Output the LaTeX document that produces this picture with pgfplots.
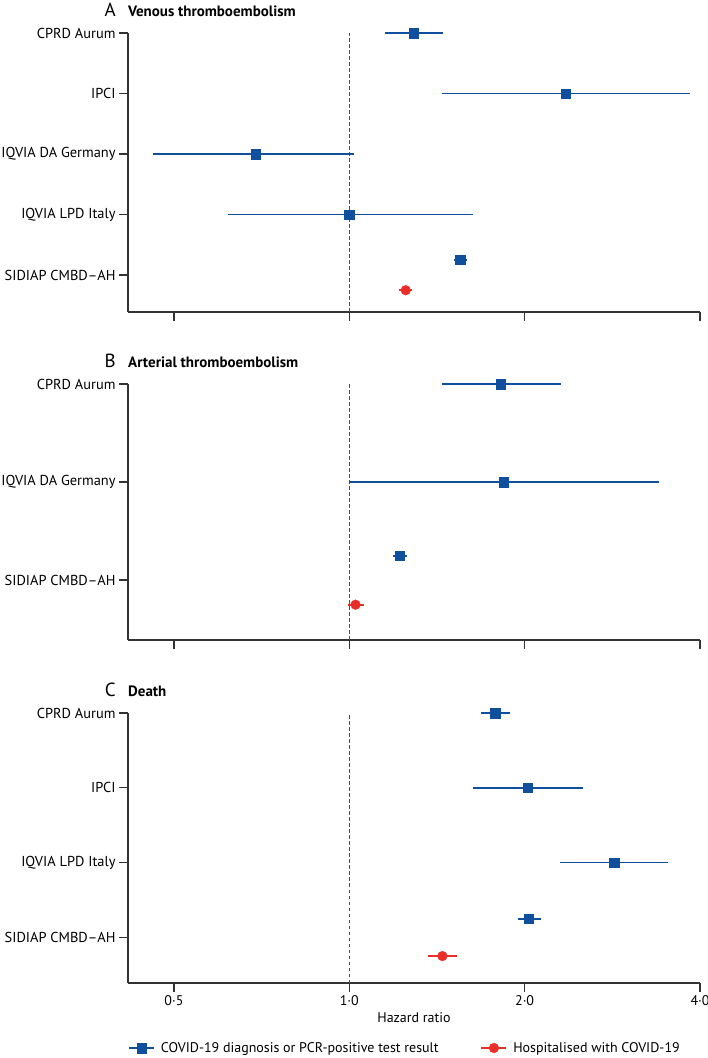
\documentclass[border=0pt]{standalone}
\usepackage{fontspec}
\setmainfont{PT Sans}
\usepackage{pgfplots}
\pgfplotsset{compat=1.18}
\usepackage{pgfplotstable}
\definecolor{covblue}{RGB}{16,79,158}
\definecolor{hospred}{RGB}{234,45,40}
\definecolor{axiscol}{RGB}{51,51,51}
\definecolor{refcol}{RGB}{45,85,110}

% Panel A: Venous thromboembolism
\pgfplotstableread{
y hr lo hi
5 1.29 1.15 1.45
4 2.35 1.44 3.85
3 0.69 0.46 1.02
2 1.00 0.62 1.63
1.25 1.55 1.51 1.59
}\vteblue
\pgfplotstableread{
y hr lo hi
0.75 1.25 1.215 1.28
}\vtered
% Panel B: Arterial thromboembolism
\pgfplotstableread{
y hr lo hi
3 1.82 1.44 2.31
2 1.84 1.00 3.40
1.25 1.22 1.19 1.255
}\ateblue
\pgfplotstableread{
y hr lo hi
0.75 1.025 0.995 1.06
}\atered
% Panel C: Death
\pgfplotstableread{
y hr lo hi
4 1.78 1.68 1.885
3 2.025 1.63 2.515
2 2.85 2.30 3.52
1.25 2.03 1.95 2.13
}\deathblue
\pgfplotstableread{
y hr lo hi
0.75 1.445 1.365 1.53
}\deathred

\newcommand{\fs}{\fontsize{14}{16.8}\selectfont}
\newcommand{\fy}{\fontsize{14.4}{17}\selectfont}

\pgfplotsset{
  every axis/.append style={
    width=572pt, scale only axis,
    xmin=0.417, xmax=4,
    ymin=0.39,
    axis x line*=bottom, axis y line*=left,
    axis line style={-, line width=1.4pt, axiscol},
    tick align=outside, major tick length=9pt,
    major tick style={line width=1.4pt, axiscol},
    minor tick num=0,
    tick label style={font=\fs, text=black},
    yticklabel style={font=\fy},
    label style={font=\fs},
    clip=false,
  },
  blueci/.style={covblue, only marks, mark=square*, mark size=4.7pt,
    mark options={line width=0.3pt}, forget plot,
    error bars/.cd, x dir=both, x explicit, error mark=none,
    error bar style={line width=1.8pt, covblue}},
  redci/.style={hospred, only marks, mark=*, mark size=4.9pt,
    mark options={line width=0.3pt}, forget plot,
    error bars/.cd, x dir=both, x explicit, error mark=none,
    error bar style={line width=1.8pt, hospred}},
  refline/.style={refcol, line width=1.3pt, dash pattern=on 3.5pt off 2.5pt, forget plot},
}

\newcommand{\paneltitle}[2]{%
  \node[anchor=base east, inner sep=0pt, font=\fontsize{19}{21}\selectfont, yshift=16pt, xshift=-12pt] at (rel axis cs:0,1) {#1};
  \node[anchor=base west, inner sep=0pt, font=\fontsize{15}{18}\selectfont\bfseries, yshift=16pt] at (rel axis cs:0,1) {#2};
}

\begin{document}
\begin{tikzpicture}
\path[use as bounding box] (0,0) rectangle (708pt,1058pt);

% ---------- A ----------
\begin{axis}[xmode=log, log basis x=2, at={(128pt,746pt)}, anchor=south west,
  height=279pt, ymax=5,
  xtick={0.5,1,2,4}, xticklabels={,,,},
  ytick={1,2,3,4,5},
  yticklabels={SIDIAP CMBD–AH, IQVIA LPD Italy, IQVIA DA Germany, IPCI, CPRD Aurum}]
\addplot[refline] coordinates {(1,0.39) (1,5)};
\addplot[blueci] table[x=hr, y=y, x error plus expr=\thisrow{hi}-\thisrow{hr}, x error minus expr=\thisrow{hr}-\thisrow{lo}] {\vteblue};
\addplot[redci] table[x=hr, y=y, x error plus expr=\thisrow{hi}-\thisrow{hr}, x error minus expr=\thisrow{hr}-\thisrow{lo}] {\vtered};
\paneltitle{A}{Venous thromboembolism}
\end{axis}

% ---------- B ----------
\begin{axis}[xmode=log, log basis x=2, at={(128pt,418pt)}, anchor=south west,
  height=256pt, ymax=3,
  xtick={0.5,1,2,4}, xticklabels={,,,},
  ytick={1,2,3},
  yticklabels={SIDIAP CMBD–AH, IQVIA DA Germany, CPRD Aurum}]
\addplot[refline] coordinates {(1,0.39) (1,3)};
\addplot[blueci] table[x=hr, y=y, x error plus expr=\thisrow{hi}-\thisrow{hr}, x error minus expr=\thisrow{hr}-\thisrow{lo}] {\ateblue};
\addplot[redci] table[x=hr, y=y, x error plus expr=\thisrow{hi}-\thisrow{hr}, x error minus expr=\thisrow{hr}-\thisrow{lo}] {\atered};
\paneltitle{B}{Arterial thromboembolism}
\end{axis}

% ---------- C ----------
\begin{axis}[xmode=log, log basis x=2, at={(128pt,75pt)}, anchor=south west,
  height=270pt, ymax=4,
  xtick={0.5,1,2,4},
  ytick={1,2,3,4},
  yticklabels={SIDIAP CMBD–AH, IQVIA LPD Italy, IPCI, CPRD Aurum},
  xticklabels={0·5,1·0,2·0,4·0},
  xlabel={Hazard ratio},
  legend columns=2,
  legend cell align=left,
  legend style={at={(axis description cs:0,-0.2407)}, anchor=west, draw=none, fill=none,
    inner sep=0pt, font=\fs,
    /tikz/every odd column/.append style={column sep=4pt},
    /tikz/every even column/.append style={column sep=40pt}},
  legend image code/.code={\draw[mark repeat=2,mark phase=2,#1] plot coordinates {(0pt,0pt) (12.5pt,0pt) (25pt,0pt)};}]
\addlegendimage{covblue, line width=1.8pt, mark=square*, mark size=4.7pt, mark options={line width=0.3pt}}
\addlegendentry{COVID-19 diagnosis or PCR-positive test result}
\addlegendimage{hospred, line width=1.8pt, mark=*, mark size=4.9pt, mark options={line width=0.3pt}}
\addlegendentry{Hospitalised with COVID-19}
\addplot[refline] coordinates {(1,0.39) (1,4)};
\addplot[blueci] table[x=hr, y=y, x error plus expr=\thisrow{hi}-\thisrow{hr}, x error minus expr=\thisrow{hr}-\thisrow{lo}] {\deathblue};
\addplot[redci] table[x=hr, y=y, x error plus expr=\thisrow{hi}-\thisrow{hr}, x error minus expr=\thisrow{hr}-\thisrow{lo}] {\deathred};
\paneltitle{C}{Death}
\end{axis}
\end{tikzpicture}
\end{document}
